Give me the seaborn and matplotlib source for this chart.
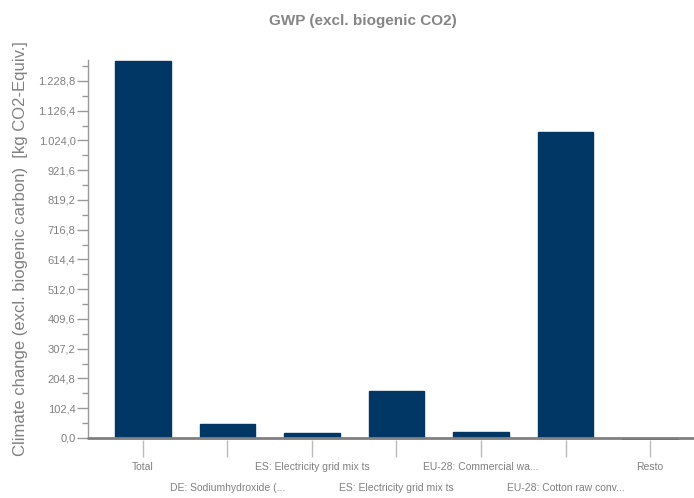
import matplotlib
matplotlib.use("Agg")
import matplotlib.pyplot as plt
import matplotlib.ticker as mticker
import seaborn as sns
import pandas as pd

# values (kg CO2-Equiv.)
categories = [
    "Total",
    "DE: Sodiumhydroxide (...",
    "ES: Electricity grid mix ts",
    "ES: Electricity grid mix ts ",
    "EU-28: Commercial wa...",
    "EU-28: Cotton raw conv...",
    "Resto",
]
values = [1298.0, 48.0, 17.0, 161.0, 21.0, 1053.0, -4.0]
y_ticks = [102.4 * i for i in range(13)]

BAR = "#003764"
GREY = "#808080"

sns.set_theme(style="white")
plt.rcParams["font.family"] = ["Liberation Sans", "DejaVu Sans"]

df = pd.DataFrame({"cat": categories, "val": values})

fig = plt.figure(figsize=(6.94, 4.98), dpi=100)
ax = fig.add_axes([0.1268, 0.1159, 0.8732, 0.763])

sns.barplot(data=df, x="cat", y="val", color=BAR, saturation=1, width=0.66,
            edgecolor=BAR, linewidth=1.0, ax=ax, order=categories)

ax.set_xlim(-0.65, 6.52)
ax.set_ylim(-8, 1300)

# axis styling
for s in ["top", "right", "bottom"]:
    ax.spines[s].set_visible(False)
ax.spines["left"].set_color("#999999")
ax.spines["left"].set_linewidth(1.0)
ax.spines["left"].set_bounds(0, 1300)
ax.axhline(0, color=GREY, lw=2, zorder=5, clip_on=False)

ax.yaxis.set_major_locator(mticker.FixedLocator(y_ticks))
ax.yaxis.set_minor_locator(mticker.FixedLocator([t + 51.2 for t in y_ticks]))
ax.yaxis.set_major_formatter(mticker.FuncFormatter(
    lambda v, p: f"{v:,.1f}".replace(",", "X").replace(".", ",").replace("X", ".")))
ax.tick_params(axis="y", which="major", left=True, length=8, width=1, color="#999999",
               labelsize=8, labelcolor=GREY, pad=1)
ax.tick_params(axis="y", which="minor", left=True, length=4, width=1, color="#999999")

# x ticks with staggered labels
ax.set_xticks(range(len(categories)))
ax.set_xticklabels([])
ax.tick_params(axis="x", bottom=True, length=12, width=1, color="#bbbbbb")
for i, c in enumerate(categories):
    ax.annotate(c.strip(), xy=(i, 0), xycoords=("data", "axes fraction"),
                xytext=(0, -19 if i % 2 == 0 else -34), textcoords="offset points",
                ha="center", va="center", fontsize=7.5, color=GREY)
ax.set_xlabel("")
ax.set_ylabel("")

fig.text(0.523, 0.958, "GWP (excl. biogenic CO2)", ha="center", va="center",
         fontsize=11, fontweight="bold", color="#858585")
fig.text(0.03, 0.501, "Climate change (excl. biogenic carbon)  [kg CO2-Equiv.]",
         rotation=90, ha="center", va="center", fontsize=12, color=GREY)

fig.savefig("out.png", dpi=100)
